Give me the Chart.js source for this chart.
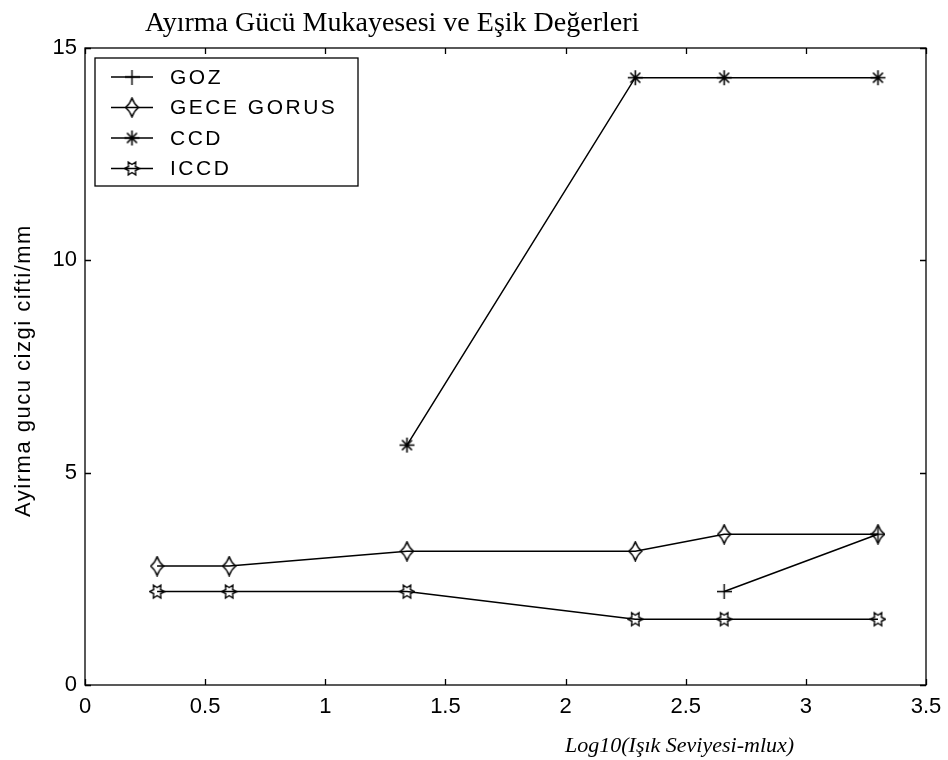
<!DOCTYPE html>
<html>
<head>
<meta charset="utf-8">
<script src="https://cdn.jsdelivr.net/npm/chart.js@4/dist/chart.umd.min.js"></script>
<style>
  html, body { margin: 0; padding: 0; background: #fff; }
  .chart-container { position: relative; width: 948px; height: 760px; }
</style>
</head>
<body>
<div class="chart-container">
  <canvas id="chart" width="948" height="760"></canvas>
</div>
<script>
// values
const seriesNames = ['GOZ', 'GECE GORUS', 'CCD', 'ICCD']
const lightLevels = [0.3, 0.6, 1.34, 2.29, 2.66, 3.3]
const gozX = [2.66, 3.3]
const gozY = [2.2, 3.55]
const geceY = [2.8, 2.8, 3.15, 3.15, 3.55, 3.55]
const ccdX = [1.34, 2.29, 2.66, 3.3]
const ccdY = [5.65, 14.3, 14.3, 14.3]
const iccdY = [2.2, 2.2, 2.2, 1.55, 1.55, 1.55]
const xTicks = [0, 0.5, 1, 1.5, 2, 2.5, 3, 3.5]
const yTicks = [0, 5, 10, 15]

const titleText = 'Ayırma Gücü Mukayesesi ve Eşik Değerleri'
const xTitle = 'Log10(Işık Seviyesi-mlux)'
const yTitle = 'Ayirma gucu cizgi cifti/mm'

const zip = (xs, ys) => xs.map((x, i) => ({ x: x, y: ys[i] }))

// small canvases used as point markers
const makeMarker = (w, h, draw) => {
  const c = document.createElement('canvas')
  c.width = w
  c.height = h
  const g = c.getContext('2d')
  g.strokeStyle = '#000'
  g.lineWidth = 1.4
  draw(g, w, h)
  return c
}

const plusMarker = makeMarker(15, 15, (g) => {
  g.beginPath()
  g.moveTo(7.5, 0); g.lineTo(7.5, 15)
  g.moveTo(0, 7.5); g.lineTo(15, 7.5)
  g.stroke()
})

const diamondMarker = makeMarker(15, 21, (g) => {
  g.beginPath()
  g.moveTo(7.5, 1)
  g.quadraticCurveTo(9.5, 7, 14, 10.5)
  g.quadraticCurveTo(9.5, 14, 7.5, 20)
  g.quadraticCurveTo(5.5, 14, 1, 10.5)
  g.quadraticCurveTo(5.5, 7, 7.5, 1)
  g.closePath()
  g.stroke()
})

const starMarker = makeMarker(17, 17, (g) => {
  g.lineWidth = 1.6
  g.beginPath()
  g.moveTo(8.5, 1); g.lineTo(8.5, 16)
  g.moveTo(1, 8.5); g.lineTo(16, 8.5)
  g.moveTo(3.5, 3.5); g.lineTo(13.5, 13.5)
  g.moveTo(13.5, 3.5); g.lineTo(3.5, 13.5)
  g.stroke()
})

const hexMarker = makeMarker(17, 17, (g) => {
  const cx = 8.5, cy = 8.5, ro = 7.5, ri = 4
  g.beginPath()
  for (let i = 0; i < 12; i++) {
    const a = Math.PI * i / 6
    const r = i % 2 === 0 ? ro : ri
    const px = cx + r * Math.cos(a), py = cy + r * Math.sin(a)
    if (i === 0) g.moveTo(px, py)
    else g.lineTo(px, py)
  }
  g.closePath()
  g.stroke()
})

const markers = [plusMarker, diamondMarker, starMarker, hexMarker]

const lineSet = (label, data, marker) => ({
  label: label,
  data: data,
  borderColor: '#000',
  backgroundColor: '#000',
  borderWidth: 1.5,
  tension: 0,
  fill: false,
  pointStyle: marker,
  pointRadius: 7,
  pointHoverRadius: 7,
})

// frame, inward ticks, titles and the boxed legend
const matlabLook = {
  id: 'matlabLook',
  afterDraw(chart) {
    const ctx = chart.ctx
    const a = chart.chartArea
    const xs = chart.scales.x
    const ys = chart.scales.y
    ctx.save()
    ctx.strokeStyle = '#000'
    ctx.lineWidth = 1.3
    ctx.strokeRect(a.left, a.top, a.right - a.left, a.bottom - a.top)
    ctx.beginPath()
    const tl = 6
    xTicks.forEach((v) => {
      const px = Math.round(xs.getPixelForValue(v)) + 0.5
      ctx.moveTo(px, a.bottom); ctx.lineTo(px, a.bottom - tl)
      ctx.moveTo(px, a.top); ctx.lineTo(px, a.top + tl)
    })
    yTicks.forEach((v) => {
      const py = Math.round(ys.getPixelForValue(v)) + 0.5
      ctx.moveTo(a.left, py); ctx.lineTo(a.left + tl, py)
      ctx.moveTo(a.right, py); ctx.lineTo(a.right - tl, py)
    })
    ctx.stroke()

    // title
    ctx.fillStyle = '#000'
    ctx.textBaseline = 'alphabetic'
    ctx.textAlign = 'left'
    ctx.font = '28px "Liberation Serif", "DejaVu Serif", serif'
    ctx.fillText(titleText, 145, 31)

    // x axis title
    ctx.font = 'italic 22px "Liberation Serif", "DejaVu Serif", serif'
    ctx.fillText(xTitle, 565, 752)

    // y axis title
    ctx.save()
    ctx.translate(30, (a.top + a.bottom) / 2 + 4)
    ctx.rotate(-Math.PI / 2)
    ctx.textAlign = 'center'
    ctx.font = '22px "Liberation Sans", Arial, sans-serif'
    ctx.letterSpacing = '1.5px'
    ctx.fillText(yTitle, 0, 0)
    ctx.restore()

    // legend
    const lx = 95, ly = 58, lw = 263, lh = 128
    ctx.fillStyle = '#fff'
    ctx.fillRect(lx, ly, lw, lh)
    ctx.strokeRect(lx, ly, lw, lh)
    ctx.fillStyle = '#000'
    ctx.font = '21px "Liberation Sans", Arial, sans-serif'
    ctx.letterSpacing = '2.5px'
    ctx.textBaseline = 'middle'
    seriesNames.forEach((name, i) => {
      const yy = 77 + i * 30.5
      ctx.beginPath()
      ctx.moveTo(111, yy); ctx.lineTo(153, yy)
      ctx.stroke()
      const m = markers[i]
      ctx.drawImage(m, 132 - m.width / 2, yy - m.height / 2)
      ctx.fillText(name, 170, yy + 1)
    })
    ctx.restore()
  },
}

const data = {
  datasets: [
    lineSet('GOZ', zip(gozX, gozY), plusMarker),
    lineSet('GECE GORUS', zip(lightLevels, geceY), diamondMarker),
    lineSet('CCD', zip(ccdX, ccdY), starMarker),
    lineSet('ICCD', zip(lightLevels, iccdY), hexMarker),
  ],
}

const tickFont = { family: '"Liberation Sans", Arial, sans-serif', size: 22 }

const config = {
  type: 'line',
  data: data,
  options: {
    responsive: false,
    animation: false,
    layout: { padding: { left: 0, right: 22, top: 48, bottom: 0 } },
    plugins: {
      legend: { display: false },
      title: { display: false },
      tooltip: { enabled: false },
    },
    scales: {
      x: {
        type: 'linear',
        min: 0,
        max: 3.5,
        afterBuildTicks: (s) => { s.ticks = xTicks.map((v) => ({ value: v })) },
        afterFit: (s) => { s.height = 75; s.paddingLeft = 0; s.paddingRight = 0 },
        grid: { display: false, drawTicks: false },
        border: { display: false },
        ticks: { color: '#000', font: tickFont, padding: 9, maxRotation: 0, callback: (v) => String(v) },
      },
      y: {
        type: 'linear',
        min: 0,
        max: 15,
        afterBuildTicks: (s) => { s.ticks = yTicks.map((v) => ({ value: v })) },
        afterFit: (s) => { s.width = 85; s.paddingTop = 0; s.paddingBottom = 0 },
        grid: { display: false, drawTicks: false },
        border: { display: false },
        ticks: { color: '#000', font: tickFont, padding: 8, callback: (v) => String(v) },
      },
    },
  },
  plugins: [matlabLook],
}

const myChart = new Chart(document.getElementById('chart'), config)
</script>
</body>
</html>
